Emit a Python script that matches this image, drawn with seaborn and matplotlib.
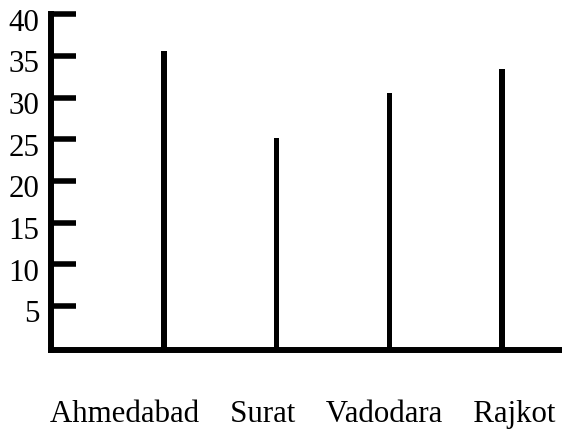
import matplotlib
matplotlib.use("Agg")
import matplotlib.pyplot as plt
import matplotlib.transforms as mtransforms
import seaborn as sns

cities = ["Ahmedabad", "Surat", "Vadodara", "Rajkot"]
values = [35.6, 25.2, 30.6, 33.4]
y_ticks = [5, 10, 15, 20, 25, 30, 35, 40]

sns.set_style("ticks")
plt.rcParams["font.family"] = ["Liberation Serif", "DejaVu Serif"]

fig = plt.figure(figsize=(5.62, 4.30), dpi=100)
ax = fig.add_axes([0.0907, 0.186, 0.9093, 0.781])

sns.barplot(x=cities, y=values, color="black", width=0.05, ax=ax,
            saturation=1, edgecolor="none")

ax.set_xlim(-1, 3.53)
ax.set_ylim(-0.3, 40)
ax.set_yticks(y_ticks)
ax.set_yticklabels([str(t) for t in y_ticks], fontsize=22.2)
ax.set_xticks([])
ax.set_xlabel("")
ax.set_ylabel("")

for side in ["top", "right"]:
    ax.spines[side].set_visible(False)
for side in ["left", "bottom"]:
    ax.spines[side].set_linewidth(4.3)
    ax.spines[side].set_color("black")
ax.tick_params(axis="y", direction="in", length=18, width=4, pad=8.2, colors="black")

# labels sit a little below their ticks in the original
shift = mtransforms.ScaledTranslation(0, -4 / 72, fig.dpi_scale_trans)
for lab in ax.get_yticklabels():
    lab.set_transform(lab.get_transform() + shift)

# city names are one spaced line under the axis
fig.text(0.539, 0.0195, "    ".join(cities), ha="center", va="baseline",
         fontsize=22.2, color="black")

fig.savefig("out.png", dpi=100, facecolor="white")
